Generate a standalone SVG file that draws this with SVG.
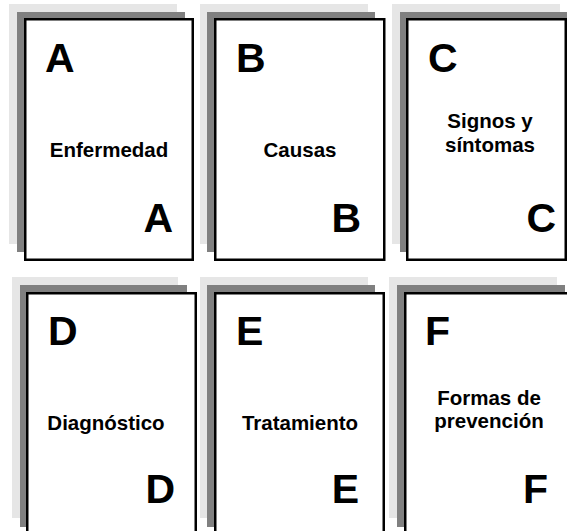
<svg xmlns="http://www.w3.org/2000/svg" width="567" height="531" viewBox="0 0 567 531">
<style>
.l{fill:#e6e6e6}
.d{fill:#808080}
.f{fill:#fff;stroke:#000;stroke-width:2.5}
.big{font-family:"Liberation Sans",Arial,sans-serif;font-weight:bold;font-size:41px;fill:#000}
.lab{font-family:"Liberation Sans",Arial,sans-serif;font-weight:bold;font-size:20.5px;fill:#000;text-anchor:middle}
.e{text-anchor:end}
</style>
<rect width="567" height="531" fill="#fff"/>
<g id="card-A">
<rect class="l" x="9" y="4" width="168" height="240"/>
<rect class="d" x="17" y="12" width="168" height="240"/>
<rect class="f" x="25.25" y="19.25" width="167.5" height="240.5"/>
<text class="big" x="45" y="72">A</text>
<text class="lab" x="109" y="157">Enfermedad</text>
<text class="big e" x="173" y="232">A</text>
</g>
<g id="card-B">
<rect class="l" x="200" y="4" width="168" height="240"/>
<rect class="d" x="207" y="12" width="168" height="240"/>
<rect class="f" x="215.25" y="19.25" width="169" height="240.5"/>
<text class="big" x="236" y="72">B</text>
<text class="lab" x="300" y="157">Causas</text>
<text class="big e" x="361" y="232">B</text>
</g>
<g id="card-C">
<rect class="l" x="392" y="4" width="168" height="240"/>
<rect class="d" x="400" y="12" width="168" height="240"/>
<rect class="f" x="407.25" y="19.25" width="158.5" height="240.5"/>
<text class="big" x="428" y="72">C</text>
<text class="lab" x="490" y="128">Signos y</text>
<text class="lab" x="490" y="152">síntomas</text>
<text class="big e" x="556" y="232">C</text>
</g>
<g id="card-D">
<rect class="l" x="12" y="277" width="166" height="241"/>
<rect class="d" x="20" y="285" width="167" height="242"/>
<rect class="f" x="27.25" y="293.25" width="168.5" height="245"/>
<text class="big" x="48" y="345">D</text>
<text class="lab" x="106" y="430">Diagnóstico</text>
<text class="big e" x="175" y="503">D</text>
</g>
<g id="card-E">
<rect class="l" x="200" y="277" width="168" height="241"/>
<rect class="d" x="207" y="285" width="168" height="242"/>
<rect class="f" x="215.25" y="293.25" width="168.5" height="245"/>
<text class="big" x="236" y="345">E</text>
<text class="lab" x="300" y="430">Tratamiento</text>
<text class="big e" x="359" y="503">E</text>
</g>
<g id="card-F">
<rect class="l" x="389" y="277" width="168" height="241"/>
<rect class="d" x="397" y="285" width="168" height="242"/>
<rect class="f" x="405.25" y="293.25" width="168" height="245"/>
<text class="big" x="425" y="345">F</text>
<text class="lab" x="489" y="405">Formas de</text>
<text class="lab" x="489" y="428">prevención</text>
<text class="big e" x="548" y="503">F</text>
</g>
<g id="connectors"/>
</svg>
